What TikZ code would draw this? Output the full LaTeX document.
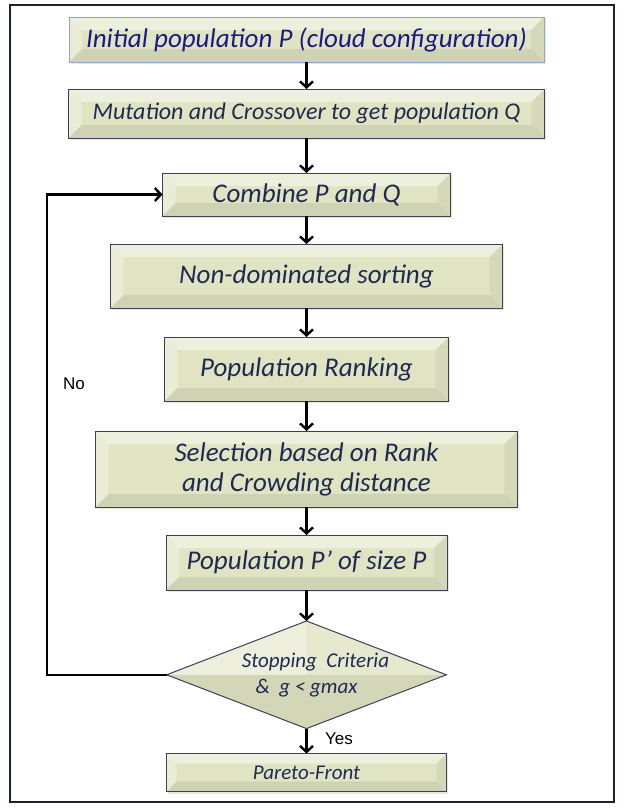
\documentclass[tikz,border=0pt]{standalone}
\usepackage{fontspec}
\setmainfont{Carlito}
\newfontfamily\lblfont{Liberation Sans}
\usepackage{tikz}
\usetikzlibrary{arrows.meta, positioning, shapes.geometric, shadows}
\definecolor{flowfill}{HTML}{E1E4C3}
\definecolor{flowline}{HTML}{3B4257}
\definecolor{flowtext}{HTML}{1E2A52}
\definecolor{firstline}{HTML}{8AA6D6}
\definecolor{firsttext}{HTML}{1A1A86}
\definecolor{framedark}{HTML}{1C2232}
\tikzset{
  bevel/.style={path picture={
    \fill[white, opacity=.45] (path picture bounding box.north west)
      -- (path picture bounding box.north east)
      -- ([xshift=-#1, yshift=-#1]path picture bounding box.north east)
      -- ([xshift=#1, yshift=-#1]path picture bounding box.north west) -- cycle;
    \fill[white, opacity=.3] (path picture bounding box.north west)
      -- ([xshift=#1, yshift=-#1]path picture bounding box.north west)
      -- ([xshift=#1, yshift=#1]path picture bounding box.south west)
      -- (path picture bounding box.south west) -- cycle;
    \fill[black, opacity=.05] (path picture bounding box.north east)
      -- ([xshift=-#1, yshift=-#1]path picture bounding box.north east)
      -- ([xshift=-#1, yshift=#1]path picture bounding box.south east)
      -- (path picture bounding box.south east) -- cycle;
    \fill[black, opacity=.08] (path picture bounding box.south west)
      -- ([xshift=#1, yshift=#1]path picture bounding box.south west)
      -- ([xshift=-#1, yshift=#1]path picture bounding box.south east)
      -- (path picture bounding box.south east) -- cycle;
  }},
  box/.style={draw=flowline, line width=1pt, fill=flowfill, bevel=13pt,
              align=center, inner sep=0pt, outer sep=0pt, text=flowtext,
              font=\itshape\fontsize{27}{30}\selectfont,
              drop shadow={opacity=.2, shadow xshift=1.5pt, shadow yshift=-2pt}},
  firstbox/.style={box, draw=firstline, text=firsttext},
  decision/.style={diamond, draw=flowline, line width=1pt, fill=flowfill,
              align=center, inner sep=0pt, outer sep=0pt, text=flowtext,
              shape aspect=2.6,
              font=\itshape\fontsize{21}{25}\selectfont,
              minimum width=275pt, minimum height=106pt,
              path picture={
    \fill[white, opacity=.4] (path picture bounding box.west)
      -- (path picture bounding box.north)
      -- (path picture bounding box.center) -- cycle;
    \fill[white, opacity=.2] (path picture bounding box.north)
      -- (path picture bounding box.east)
      -- (path picture bounding box.center) -- cycle;
    \fill[black, opacity=.06] (path picture bounding box.west)
      -- (path picture bounding box.south)
      -- (path picture bounding box.east)
      -- (path picture bounding box.center) -- cycle;
  }},
  flow/.style={-{Straight Barb[length=6pt, width=13pt, line width=2.4pt]},
               line width=2.6pt, draw=black},
  lbl/.style={font=\lblfont\fontsize{17}{20}\selectfont, text=black},
}
\begin{document}
\begin{tikzpicture}[x=1pt, y=-1pt]
  \useasboundingbox (0,0) rectangle (624,809);
  \draw[framedark, line width=1.3pt] (10,5) rectangle (614,802);

  \node[firstbox, minimum width=475pt, minimum height=45pt] (init) at (306.5,39.5)
    {Initial population P (cloud configuration)};
  \node[box, below=27pt of init, minimum width=476pt, minimum height=49pt,
        font=\itshape\fontsize{24}{28}\selectfont] (mut)
    {Mutation and Crossover to get population Q};
  \node[box, below=35pt of mut, minimum width=288pt, minimum height=43pt] (comb)
    {Combine P and Q};
  \node[box, below=28pt of comb, minimum width=392pt, minimum height=64pt] (sort)
    {Non-dominated sorting};
  \node[box, below=29pt of sort, minimum width=284pt, minimum height=64pt] (rank)
    {Population Ranking};
  \node[box, below=30pt of rank, minimum width=422pt, minimum height=76pt] (sel)
    {Selection based on Rank\\ and Crowding distance};
  \node[box, below=28pt of sel, minimum width=281pt, minimum height=55pt] (newpop)
    {Population P’ of size P};
  \node[decision, below=31pt of newpop] (crit)
    {\hspace{18pt}Stopping~ Criteria\\[1pt] \&~ g < gmax};
  \node[box, below=25pt of crit, minimum width=280pt, minimum height=38pt,
        bevel=10pt, font=\itshape\fontsize{21}{25}\selectfont] (front)
    {Pareto-Front};

  \draw[flow] (init) -- (mut);
  \draw[flow] (mut) -- (comb);
  \draw[flow] (comb) -- (sort);
  \draw[flow] (sort) -- (rank);
  \draw[flow] (rank) -- (sel);
  \draw[flow] (sel) -- (newpop);
  \draw[flow] (newpop) -- (crit);
  \draw[flow] (crit) -- node[lbl, right=14pt, pos=.4] {Yes} (front);

  % back to the combine step
  \coordinate (back) at (47,400);
  \draw[flow] (crit.west) -- (crit.west -| back) |- (comb.west);
  \node[lbl] (no) at (74,384) {No};
\end{tikzpicture}
\end{document}
